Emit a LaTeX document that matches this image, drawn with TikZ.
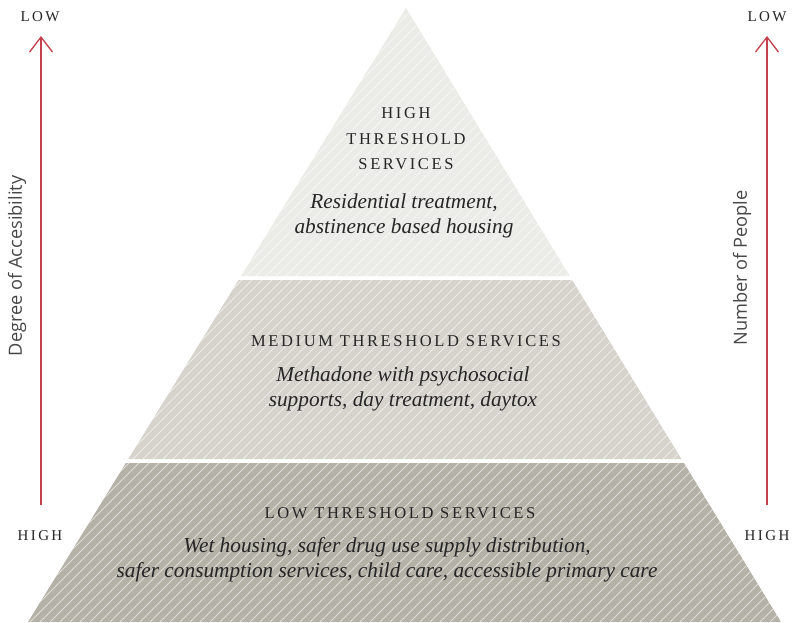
\documentclass[tikz,border=0pt]{standalone}
\usepackage{fontspec}
\setmainfont{Liberation Serif}
\newfontfamily\sidefont{Open Sans}
\newfontfamily\capsfont[LetterSpace=16]{Liberation Serif}
\usetikzlibrary{arrows.meta, positioning}

\definecolor{axisred}{HTML}{C4404A}
\definecolor{inkgray}{HTML}{262626}
\definecolor{tiertop}{HTML}{EBEBE7}
\definecolor{tiermid}{HTML}{D5D3CC}
\definecolor{tierlow}{HTML}{B4B2A7}

\tikzset{
  tierhead/.style={font=\capsfont\fontsize{16.5}{25.5}\selectfont, text=inkgray, align=center, inner sep=0pt},
  tiertext/.style={font=\itshape\fontsize{21.3}{25}\selectfont, text=inkgray, align=center, inner sep=0pt},
  endlabel/.style={font=\capsfont\fontsize{15}{18}\selectfont, text=inkgray, inner sep=0pt},
  sidelabel/.style={font=\sidefont\fontsize{18.2}{20}\selectfont, text=black!72, rotate=90, inner sep=0pt},
  axis/.style={draw=axisred, line width=1.3pt, -{Straight Barb[length=15pt, width=23pt]}},
  stripes/.style={white, opacity=0.55, line width=1pt}
}

\begin{document}
\begin{tikzpicture}[x=1pt, y=-1pt]
   \useasboundingbox (0,0) rectangle (793,622);

   % Tiers
      \begin{scope}
         \clip (406,8) -- (569.7,276) -- (241,276) -- cycle;
         \fill[tiertop] (0,0) rectangle (793,622);
         \foreach \k in {-70,...,80} \draw[stripes] (10*\k,622) -- ++(640,-640);
      \end{scope}
      \begin{scope}
         \clip (238.6,280) -- (572.1,280) -- (681.4,459) -- (128.4,459) -- cycle;
         \fill[tiermid] (0,0) rectangle (793,622);
         \foreach \k in {-70,...,80} \draw[stripes] (10*\k,622) -- ++(640,-640);
      \end{scope}
      \begin{scope}
         \clip (125.9,463) -- (683.9,463) -- (781,622) -- (28,622) -- cycle;
         \fill[tierlow] (0,0) rectangle (793,622);
         \foreach \k in {-70,...,80} \draw[stripes] (10*\k,622) -- ++(640,-640);
      \end{scope}

   % Nodes
      \node[tierhead] (highhead) at (406,139) {HIGH\\THRESHOLD\\SERVICES};
      \node[tiertext] (hightext) at (404,216) {Residential treatment,\\abstinence based housing};
      \node[tierhead] (medhead)  at (406,341) {MEDIUM THRESHOLD SERVICES};
      \node[tiertext] (medtext)  at (403,389) {Methadone with psychosocial\\supports, day treatment, daytox};
      \node[tierhead] (lowhead)  at (400,513) {LOW THRESHOLD SERVICES};
      \node[tiertext] (lowtext)  at (387,560) {Wet housing, safer drug use supply distribution,\\safer consumption services, child care, accessible primary care};

      \node[endlabel] (lowL)  at (40,17)   {LOW};
      \node[endlabel] (highL) at (40,536)  {HIGH};
      \node[endlabel] (lowR)  at (767,17)  {LOW};
      \node[endlabel] (highR) at (767,536) {HIGH};

      \node[sidelabel] (access) at (17,266)  {Degree of Accesibility};
      \node[sidelabel] (people) at (742,268) {Number of People};

      \coordinate (accBot) at (41,505);
      \coordinate (accTop) at (41,36);
      \coordinate (pplBot) at (767,505);
      \coordinate (pplTop) at (767,36);

   % Paths
      \draw[axis] (accBot) -- (accTop);
      \draw[axis] (pplBot) -- (pplTop);
\end{tikzpicture}
\end{document}
